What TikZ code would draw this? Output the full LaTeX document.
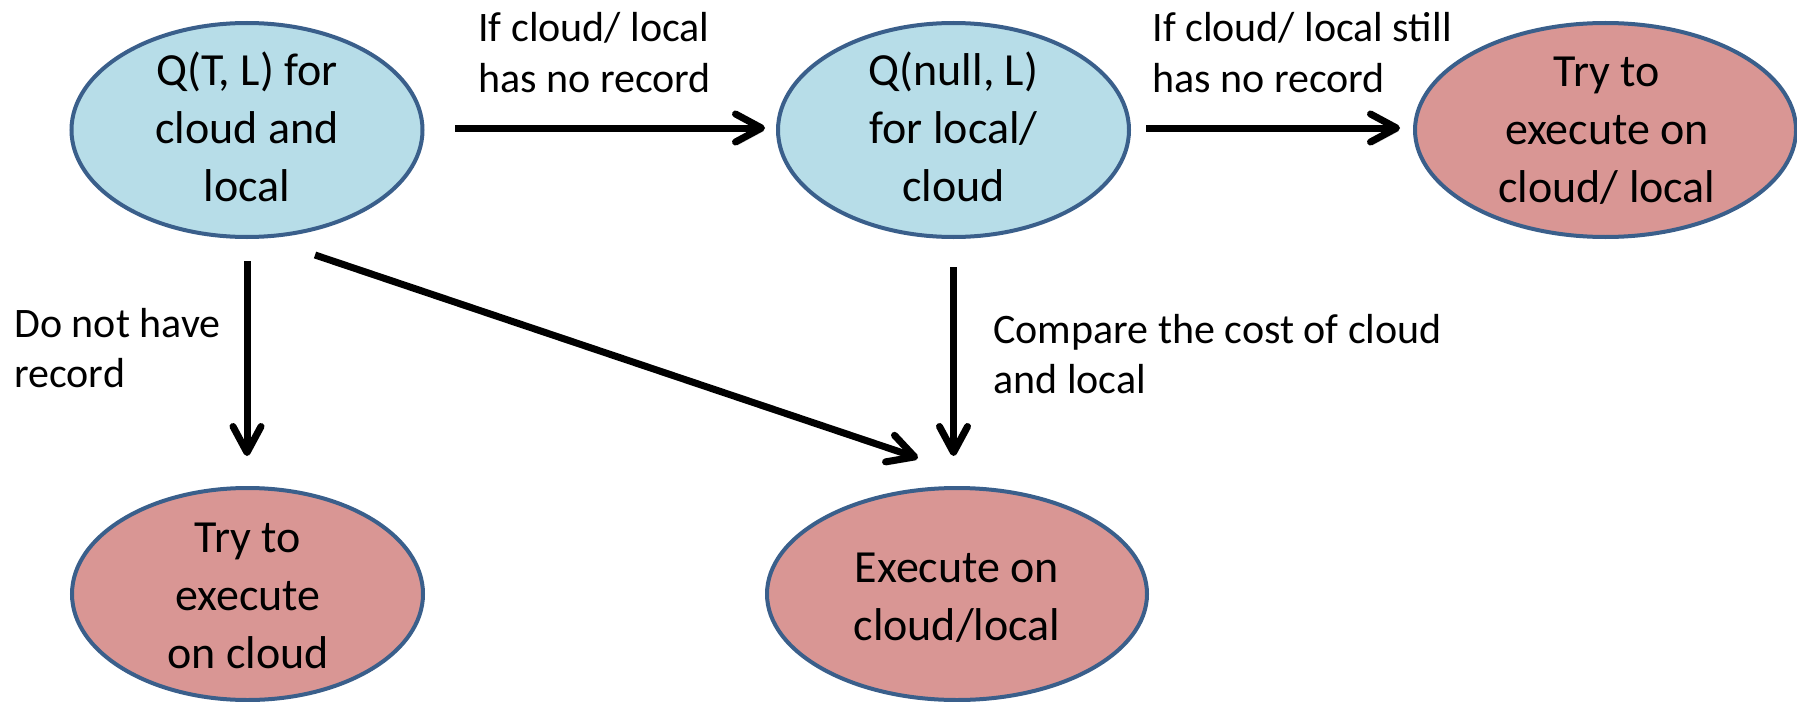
\documentclass[tikz,border=0pt]{standalone}
\usepackage{fontspec}
\setmainfont{Carlito}
\usetikzlibrary{shapes.geometric, arrows.meta}
\definecolor{edgeblue}{RGB}{58,95,139}
\definecolor{queryfill}{RGB}{183,221,232}
\definecolor{actfill}{RGB}{217,150,148}
\begin{document}
\begin{tikzpicture}[x=0.5pt, y=-0.5pt,
  state/.style={ellipse, draw=edgeblue, line width=2pt, inner sep=0pt, minimum height=107pt},
  query/.style={state, fill=queryfill, minimum width=175.5pt},
  action/.style={state, fill=actfill},
  etext/.style={align=center, inner sep=0pt, font=\fontsize{23}{29}\selectfont},
  note/.style={align=left, anchor=west, inner sep=0pt, font=\fontsize{21}{25}\selectfont},
  arr/.style={line width=3.5pt, -{Straight Barb[length=13pt,width=14pt,round]},
    preaction={draw=black!18, transform canvas={xshift=1pt,yshift=-1.5pt}}}
]
% canvas
\fill[white] (0,0) rectangle (1797,701);
\useasboundingbox (0,0) rectangle (1797,701);

% states
\node[query] (q1) at (247,130) {};
\node[query] (q2) at (953.5,130) {};
\node[action, minimum width=190.5pt] (a3) at (1605.5,130) {};
\node[action, minimum width=175.5pt, minimum height=106pt] (a1) at (247.5,594) {};
\node[action, minimum width=190pt, minimum height=106pt] (a2) at (957,594) {};

% state texts
\node[etext] (q1t) at (247,132) {\strut Q(T, L) for\\\strut cloud and\\\strut local};
\node[etext] (q2t) at (953.5,132) {\strut Q(null, L)\\\strut for local/\\\strut cloud};
\node[etext] (a3t) at (1607,133) {\strut Try to\\\strut execute on\\\strut cloud/ local};
\node[etext] (a1t) at (248,599) {\strut Try to\\\strut execute\\\strut on cloud};
\node[etext] (a2t) at (957,600) {\strut Execute on\\\strut cloud/local};

% transition notes
\node[note] (l1) at (478,57) {\strut If cloud/ local\\\strut has no record};
\node[note] (l2) at (1152,57) {\strut If cloud/ local still\\\strut has no record};
\node[note] (l3) at (14,352) {\strut Do not have\\\strut record};
\node[note] (l4) at (993,358) {\strut Compare the cost of cloud\\\strut and local};

% transitions
\draw[arr, shorten <=15.25pt, shorten >=5.5pt] ([yshift=1pt]q1.east) -- ([yshift=1pt]q2.west);
\draw[arr, shorten <=7.5pt, shorten >=6.5pt] ([yshift=1pt]q2.east) -- ([yshift=1pt]a3.west);
\draw[arr, shorten <=11pt, shorten >=15pt] (q1.south) -- (q1.south |- a1.north);
\draw[arr, shorten <=14pt, shorten >=15pt] (q2.south) -- (q2.south |- a2.north);
\draw[arr] ([shift={(68,125)}]q1.center) -- ([shift={(-39,-136)}]a2.center);
\end{tikzpicture}
\end{document}
